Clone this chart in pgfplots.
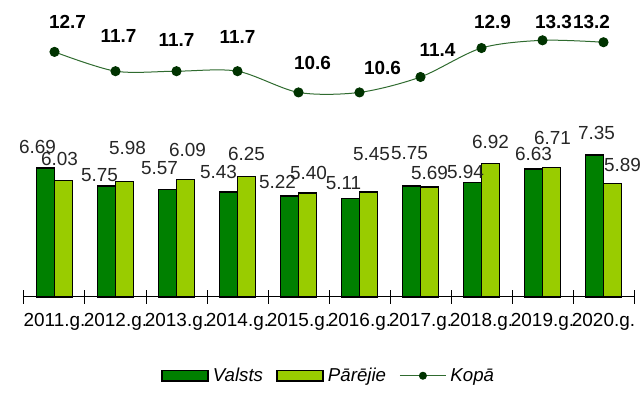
\documentclass[border=0pt]{standalone}
\usepackage{pgfplots}
\pgfplotsset{compat=1.18}
\usepackage{pgfplotstable}
\usepackage{fontspec}
\setmainfont{Liberation Sans}
\definecolor{valsts}{HTML}{008000}
\definecolor{parejie}{HTML}{99CC00}
\definecolor{kline}{HTML}{2F6B2F}
\definecolor{kmark}{HTML}{003300}

\pgfplotsset{
  barlegend/.style={legend image code/.code={\draw[##1,/tikz/.cd] (0pt,-4pt) rectangle (34.5pt,4pt);}},
  linelegend/.style={legend image code/.code={\draw[mark repeat=2,mark phase=2,##1,mark size=2.6pt] plot coordinates {(0pt,0pt) (17.25pt,0pt) (34.5pt,0pt)};}},
}

\pgfplotstableread{
x y dx dy
0 6.69 -17 21
1 5.75 -16 11
2 5.57 -17 21.5
3 5.43 -19 20
4 5.22 -21 14
5 5.11 -16 15
6 5.75 -11 33
7 5.94 -16 10
8 6.63 -9 15
9 7.35 -7 22
}\valsts

\pgfplotstableread{
x y dx dy
0 6.03 5 21.5
1 5.98 12 33.5
2 6.09 11 29.5
3 6.25 9 22
4 5.40 10 20
5 5.45 12 38
6 5.69 9 14
7 6.92 9 21
8 6.71 10 30
9 5.89 19 18
}\parejie

\pgfplotstableread{
x y dx dy
0 12.7 13 30
1 11.7 3 35
2 11.7 0 31
3 11.7 0 34
4 10.6 14 29
5 10.6 23 24
6 11.4 17 27
7 12.9 11 26
8 13.3 11 18
9 13.2 -12 20
}\kopa

\begin{document}
\begin{tikzpicture}
\begin{axis}[
  name=ax,
  scale only axis,
  width=457.5pt, height=217.125pt,
  xmin=-0.5, xmax=9.5, ymin=0, ymax=15,
  clip=false,
  axis y line=none,
  axis x line*=bottom,
  ytick=\empty,
  xtick={0,...,9},
  xticklabels={2011.g.,2012.g.,2013.g.,2014.g.,2015.g.,2016.g.,2017.g.,2018.g.,2019.g.,2020.g.},
  major tick length=0pt,
  minor xtick={-0.5,0.5,...,9.5},
  minor tick length=10.5pt,
  tick align=center,
  tick style={black, line width=0.75pt},
  x axis line style={black, line width=0.75pt},
  xticklabel style={font=\fontsize{14.2}{16}\selectfont, yshift=-11pt, inner sep=1pt},
  /pgf/number format/assume math mode=true,
  legend columns=3,
  legend style={draw=none, fill=none, at={(0.5,-0.272)}, anchor=center,
    font=\itshape\fontsize{14}{16}\selectfont,
    /tikz/every even column/.append style={column sep=8pt},
    /tikz/every odd column/.append style={column sep=1pt}},
]
\addplot[ybar, bar width=13.5pt, bar shift=-6.75pt, fill=valsts, draw=black, line width=1.2pt, barlegend]
  table[x=x,y=y]{\valsts};
\addlegendentry{Valsts}
\addplot[ybar, bar width=13.5pt, bar shift=6.75pt, fill=parejie, draw=black, line width=1.2pt, barlegend]
  table[x=x,y=y]{\parejie};
\addlegendentry{Pārējie}
\addplot[kline, line width=0.75pt, smooth, mark=*, mark size=3.4pt,
  mark options={draw=kmark, fill=kmark}, linelegend]
  table[x=x,y=y]{\kopa};
\addlegendentry{Kopā}

\addplot[forget plot, draw=none, mark=none, point meta=y,
  nodes near coords={\pgfmathprintnumber[fixed,fixed zerofill,precision=2]{\pgfplotspointmeta}},
  visualization depends on={\thisrow{dx} \as \dx},
  visualization depends on={\thisrow{dy} \as \dy},
  every node near coord/.append style={anchor=center, xshift={\dx*0.75pt}, yshift={\dy*0.75pt},
    font=\fontsize{14.2}{16}\selectfont, text=black!85, inner sep=0pt}]
  table[x=x,y=y]{\valsts};
\addplot[forget plot, draw=none, mark=none, point meta=y,
  nodes near coords={\pgfmathprintnumber[fixed,fixed zerofill,precision=2]{\pgfplotspointmeta}},
  visualization depends on={\thisrow{dx} \as \dx},
  visualization depends on={\thisrow{dy} \as \dy},
  every node near coord/.append style={anchor=center, xshift={\dx*0.75pt}, yshift={\dy*0.75pt},
    font=\fontsize{14.2}{16}\selectfont, text=black!85, inner sep=0pt}]
  table[x=x,y=y]{\parejie};
\addplot[forget plot, draw=none, mark=none, point meta=y,
  nodes near coords={\pgfmathprintnumber[fixed,fixed zerofill,precision=1]{\pgfplotspointmeta}},
  visualization depends on={\thisrow{dx} \as \dx},
  visualization depends on={\thisrow{dy} \as \dy},
  every node near coord/.append style={anchor=center, xshift={\dx*0.75pt}, yshift={\dy*0.75pt},
    font=\bfseries\fontsize{14.2}{16}\selectfont, text=black, inner sep=0pt}]
  table[x=x,y=y]{\kopa};
\end{axis}
\pgfresetboundingbox
\useasboundingbox ([xshift=-18pt,yshift=-82.5pt]ax.south west) rectangle ++(480pt,305.25pt);
\end{tikzpicture}
\end{document}
